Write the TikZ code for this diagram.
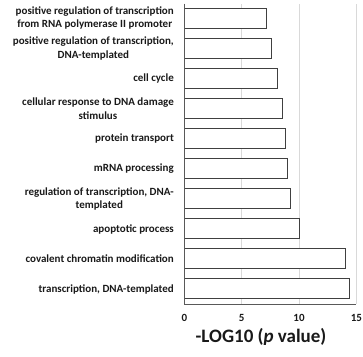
\documentclass[tikz,border=0pt]{standalone}
\usepackage{fontspec}
\setmainfont{Carlito}
\begin{document}
\begin{tikzpicture}[x=1pt,y=-1pt,
  barbox/.style={draw=black!75, fill=white, line width=0.9pt, inner sep=0pt, outer sep=0pt, anchor=west, minimum height=20pt},
  gridline/.style={draw=black!15, line width=0.7pt},
  axisline/.style={draw=black!65, line width=0.9pt},
  catlabel/.style={anchor=east, align=center, text=black!90, font=\bfseries\fontsize{11}{13.3}\selectfont, inner sep=0pt},
  ticklabel/.style={text=black!90, font=\bfseries\fontsize{11}{12}\selectfont, inner sep=0pt},
  axistitle/.style={text=black!90, font=\bfseries\fontsize{19}{22}\selectfont, inner sep=0pt}
  ]
\useasboundingbox (0,0) rectangle (363,356);
\def\xo{184.3}
\def\un{11.47}
% gridlines
\foreach \t in {5,10,15}{
  \draw[gridline] ({\xo+\t*\un},4) -- ({\xo+\t*\un},304);
}
% bars
\foreach \v [count=\i] in {7.18,7.56,8.14,8.55,8.78,8.98,9.24,10.06,14.04,14.39}{
  \pgfmathsetmacro{\yc}{18+30.1*(\i-1)}
  \pgfmathsetmacro{\barw}{\v*\un}
  \node[barbox, minimum width=\barw pt] (b\i) at (\xo,\yc) {};
}
% axes
\coordinate (atop) at (\xo,3.5);
\coordinate (abot) at (\xo,304);
\coordinate (aend) at ({\xo+15*\un},304);
\draw[axisline] (atop) -- (abot) -- (aend);
% tick labels
\foreach \t in {0,5,10,15}{
  \node[ticklabel] (t\t) at ({\xo+\t*\un},317.5) {\t};
}
\node[axistitle] (title) at (261,337) {-LOG10 (\textit{p} value)};
% category labels
\foreach \txt [count=\i] in {
  {positive regulation of transcription\\from RNA polymerase II promoter},
  {positive regulation of transcription,\\DNA-templated},
  {cell cycle},
  {cellular response to DNA damage\\stimulus},
  {protein transport},
  {mRNA processing},
  {regulation of transcription, DNA-\\templated},
  {apoptotic process},
  {covalent chromatin modification},
  {transcription, DNA-templated}}{
  \pgfmathsetmacro{\yc}{18.3+30.1*(\i-1)}
  \node[catlabel] (c\i) at (174,\yc) {\txt};
}
\end{tikzpicture}
\end{document}
